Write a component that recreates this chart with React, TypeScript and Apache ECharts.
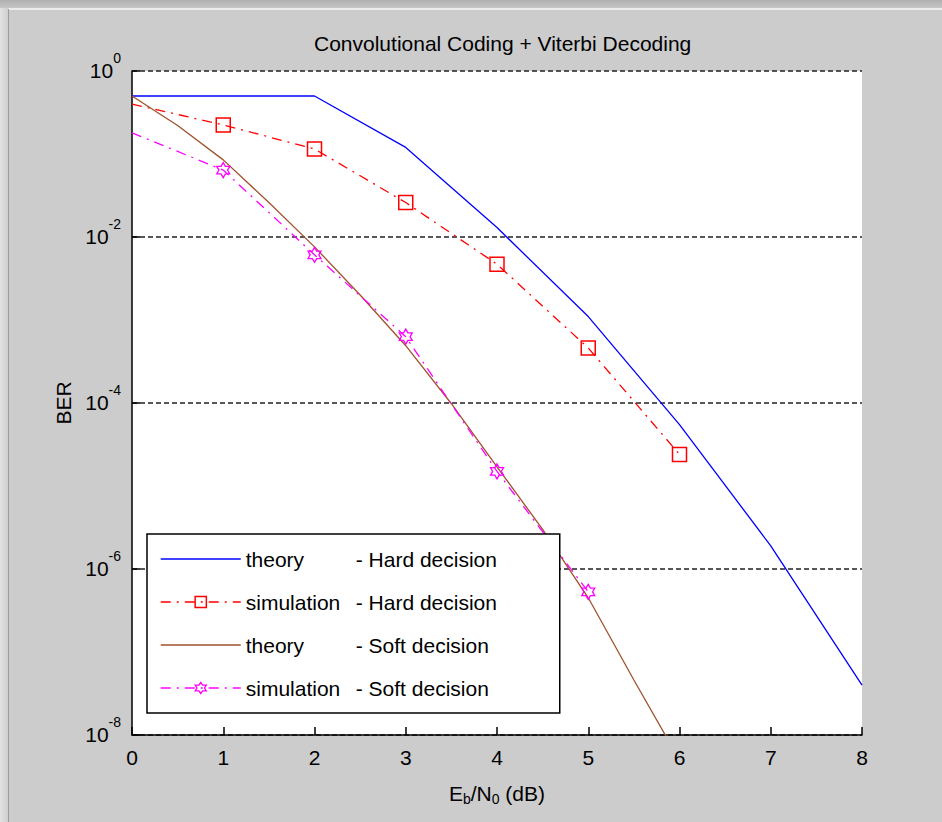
import React, { useEffect, useRef } from "react";
import * as echarts from "echarts";

const ebn0 = [0, 1, 2, 3, 4, 5, 6, 7, 8];
const theoryHard = [0.5, 0.5, 0.5, 0.12, 0.013, 1.1e-3, 5.5e-5, 1.9e-6, 4e-8];
const simHardX = [0, 1, 2, 3, 4, 5, 6];
const simHard = [0.4, 0.224, 0.115, 0.026, 4.7e-3, 4.6e-4, 2.4e-5];
const theorySoftX = [0, 0.5, 1, 1.5, 2, 2.5, 3, 3.5, 4, 4.5, 5, 5.5, 6];
const theorySoft = [0.5, 0.22, 0.085, 0.026, 7.6e-3, 2.0e-3, 4.9e-4, 9.8e-5, 1.7e-5, 3e-6, 4.5e-7, 4.6e-8, 5e-9];
const simSoftX = [0, 1, 2, 3, 4, 5];
const simSoft = [0.18, 0.064, 6.1e-3, 6.3e-4, 1.5e-5, 5.3e-7];

const seriesNames = [
  "theory - Hard decision",
  "simulation - Hard decision",
  "theory - Soft decision",
  "simulation - Soft decision",
];

const FONT = '"Liberation Sans", Arial, sans-serif';
const FS = 21;
const HEXAGRAM =
  "path://M10 0 L12.887 5 L18.66 5 L15.774 10 L18.66 15 L12.887 15 L10 20 L7.113 15 L1.34 15 L4.226 10 L1.34 5 L7.113 5 Z";

function pairs(xs: number[], ys: number[], noMarkerAtZero: boolean) {
  return xs.map((x, i) =>
    noMarkerAtZero && x === 0 ? { value: [x, ys[i]], symbol: "none" } : { value: [x, ys[i]] }
  );
}

export default function App() {
  const ref = useRef<HTMLDivElement>(null);
  useEffect(() => {
    if (!ref.current) return;
    const chart = echarts.init(ref.current, undefined, { renderer: "svg" });
    const dashDot = [10, 6, 2, 6];
    chart.setOption({
      animation: false,
      backgroundColor: "#cccccc",
      textStyle: { fontFamily: FONT },
      title: {
        text: "Convolutional Coding + Viterbi Decoding",
        left: 309,
        top: 28,
        textStyle: { fontFamily: FONT, fontSize: FS, fontWeight: "normal", color: "#000" },
      },
      graphic: [
        {
          type: "rect",
          shape: { x: 0, y: 0, width: 942, height: 8 },
          style: {
            fill: new echarts.graphic.LinearGradient(0, 0, 0, 1, [
              { offset: 0, color: "#b0b0b0" },
              { offset: 1, color: "#c4c4c4" },
            ]),
          },
          silent: true,
        },
        { type: "line", shape: { x1: 0, y1: 9, x2: 942, y2: 9 }, style: { stroke: "#ececec", lineWidth: 2 }, silent: true },
        {
          type: "rect",
          shape: { x: 0, y: 8, width: 8, height: 814 },
          style: {
            fill: new echarts.graphic.LinearGradient(0, 0, 1, 0, [
              { offset: 0, color: "#e2e2e2" },
              { offset: 1, color: "#cfcfcf" },
            ]),
          },
          silent: true,
        },
        { type: "line", shape: { x1: 8.5, y1: 9, x2: 8.5, y2: 822 }, style: { stroke: "#9c9c9c", lineWidth: 1 }, silent: true },
      ],
      grid: {
        left: 132,
        top: 71,
        width: 730,
        height: 664,
        show: true,
        backgroundColor: "#ffffff",
        borderWidth: 0,
      },
      legend: {
        orient: "vertical",
        left: 147,
        top: 534,
        backgroundColor: "#ffffff",
        borderColor: "#000",
        borderWidth: 1.5,
        borderRadius: 0,
        padding: [14, 8, 14, 13],
        itemWidth: 80,
        itemHeight: 14,
        itemGap: 21,
        selectedMode: false,
        data: [
          { name: seriesNames[0], itemStyle: { opacity: 0 }, lineStyle: { width: 1.5 } },
          { name: seriesNames[1], itemStyle: { color: "transparent", borderColor: "#ff0000", borderWidth: 1.5 }, lineStyle: { width: 1.5 } },
          { name: seriesNames[2], itemStyle: { opacity: 0 }, lineStyle: { width: 1.5 } },
          { name: seriesNames[3], itemStyle: { color: "transparent", borderColor: "#ff00ff", borderWidth: 1.3 }, lineStyle: { width: 1.5 } },
        ],
        formatter: (name: string) => {
          const [a, b] = name.split(" - ");
          return `{a|${a}}{b|- ${b}}`;
        },
        textStyle: {
          fontFamily: FONT,
          fontSize: FS,
          color: "#000",
          lineHeight: 22,
          rich: {
            a: { fontFamily: FONT, fontSize: FS, color: "#000", width: 110, lineHeight: 22 },
            b: { fontFamily: FONT, fontSize: FS, color: "#000", width: 196, lineHeight: 22 },
          },
        },
      },
      xAxis: {
        type: "value",
        min: 0,
        max: 8,
        interval: 1,
        axisLine: { show: true, onZero: false, lineStyle: { color: "#000", width: 1.5 } },
        axisTick: { show: true, inside: true, length: 8, lineStyle: { color: "#000", width: 1.5 } },
        splitLine: { show: false },
        axisLabel: { color: "#000", fontFamily: FONT, fontSize: FS, margin: 12 },
        name: "E{sub|b}/N{sub|0} (dB)",
        nameLocation: "middle",
        nameGap: 45,
        nameTextStyle: {
          color: "#000",
          fontFamily: FONT,
          fontSize: FS,
          rich: {
            sub: { fontFamily: FONT, fontSize: 14, color: "#000", verticalAlign: "top", padding: [12, 0, 0, 0] },
          },
        },
      },
      yAxis: {
        type: "log",
        logBase: 10,
        min: 1e-8,
        max: 1,
        interval: 2,
        axisLine: { show: true, onZero: false, lineStyle: { color: "#000", width: 1.5 } },
        axisTick: { show: true, inside: true, length: 8, lineStyle: { color: "#000", width: 1.5 } },
        minorTick: { show: false },
        splitLine: { show: true, lineStyle: { color: "#222", width: 1.6, type: [5, 3] } },
        axisLabel: {
          margin: 11,
          formatter: (v: number) => `{b|10}{s|${Math.round(Math.log10(v))}}`,
          rich: {
            b: { fontFamily: FONT, fontSize: FS, color: "#000", verticalAlign: "bottom", padding: [0, 0, 10, 0] },
            s: { fontFamily: FONT, fontSize: 14, color: "#000", verticalAlign: "bottom", padding: [0, 0, 26, 0] },
          },
        },
        name: "BER",
        nameLocation: "middle",
        nameRotate: 90,
        nameGap: 54,
        nameTextStyle: { color: "#000", fontFamily: FONT, fontSize: FS },
      },
      series: [
        {
          name: seriesNames[0],
          type: "line",
          data: pairs(ebn0, theoryHard, false),
          symbol: "none",
          lineStyle: { color: "#0000ff", width: 1.3 },
          itemStyle: { color: "#0000ff" },
          z: 3,
        },
        {
          name: seriesNames[1],
          type: "line",
          data: pairs(simHardX, simHard, true),
          symbol: "rect",
          symbolSize: 14,
          lineStyle: { color: "#ff0000", width: 1.3, type: dashDot },
          itemStyle: { color: "transparent", borderColor: "#ff0000", borderWidth: 1.5 },
          z: 3,
        },
        {
          name: seriesNames[2],
          type: "line",
          data: pairs(theorySoftX, theorySoft, false),
          symbol: "none",
          lineStyle: { color: "#a0522d", width: 1.3 },
          itemStyle: { color: "#a0522d" },
          z: 3,
        },
        {
          name: seriesNames[3],
          type: "line",
          data: pairs(simSoftX, simSoft, true),
          symbol: HEXAGRAM,
          symbolKeepAspect: true,
          symbolSize: 15,
          lineStyle: { color: "#ff00ff", width: 1.3, type: dashDot },
          itemStyle: { color: "transparent", borderColor: "#ff00ff", borderWidth: 1.3 },
          z: 3,
        },
      ],
    });
    return () => chart.dispose();
  }, []);
  return (
    <div
      ref={ref}
      style={{ position: "fixed", left: 0, top: 0, width: 942, height: 822, background: "#cccccc" }}
    />
  );
}
